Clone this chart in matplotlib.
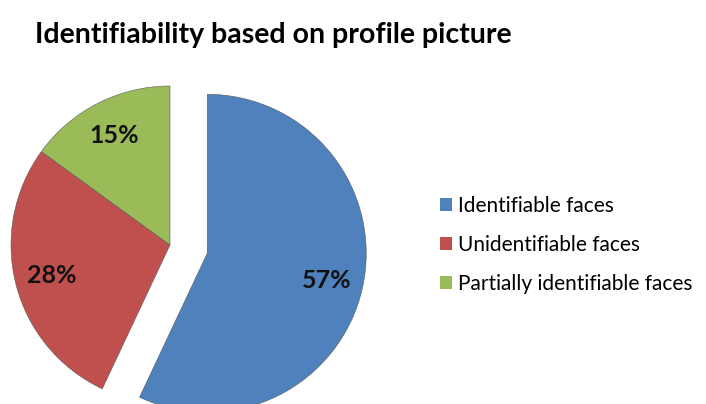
import matplotlib.pyplot as plt

# Data
labels = ['Identifiable faces', 'Unidentifiable faces', 'Partially identifiable faces']
values = [57, 28, 15]
colors = ['#4F81BD', '#C0504D', '#9BBB59']
explode = [0.24, 0, 0]

plt.rcParams['font.family'] = ['Lato', 'DejaVu Sans']

fig = plt.figure(figsize=(7.06, 4.04), dpi=100)
ax = fig.add_axes([0, 0, 1, 1])

wedges, texts, autotexts = ax.pie(
    values, colors=colors, explode=explode, startangle=90, counterclock=False,
    autopct='%d%%', pctdistance=0.77, radius=1.0,
    wedgeprops=dict(linewidth=0.4, edgecolor='#5a5a5a'),
    textprops=dict(fontsize=18, fontweight='bold', color='#111111'))

# map pixels: pie centre at (170, 245), radius 159 px
scale = 159.0
ax.set_xlim(-170 / scale, (706 - 170) / scale)
ax.set_ylim(-(404 - 245) / scale, 245 / scale)
ax.set_aspect('auto')
ax.axis('off')

fig.text(35 / 706, 1 - 35 / 404, 'Identifiability based on profile picture',
         fontsize=20.5, fontweight='bold', ha='left', va='center')

leg = ax.legend(wedges, labels, loc='center left', bbox_to_anchor=(421 / 706, 1 - 245 / 404),
                bbox_transform=fig.transFigure, frameon=False, fontsize=15,
                handlelength=0.6, handleheight=0.6, handletextpad=0.3, labelspacing=0.92)
for h in leg.legend_handles:
    h.set_linewidth(0)

fig.savefig('out.png', dpi=100)
